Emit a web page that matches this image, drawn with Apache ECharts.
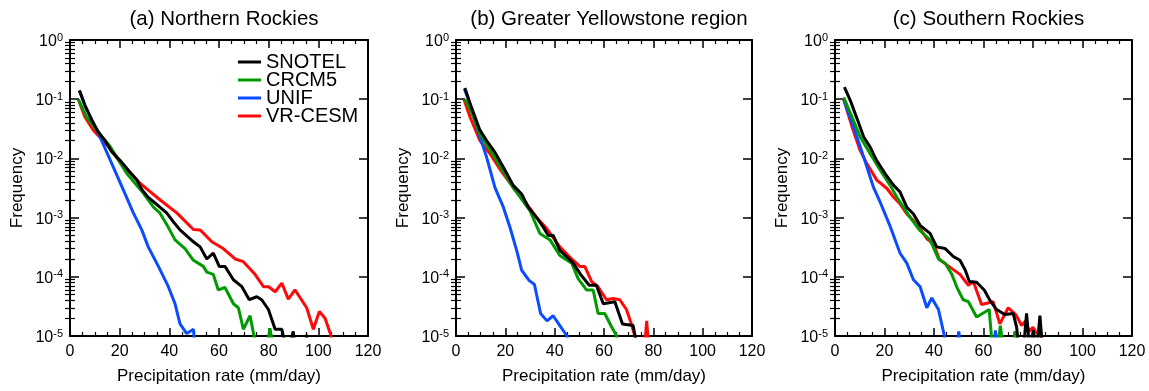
<!DOCTYPE html>
<html>
<head>
<meta charset="utf-8">
<title>Precipitation rate frequency</title>
<script src="https://cdn.jsdelivr.net/npm/echarts@6/dist/echarts.min.js"></script>
<style>
html,body{margin:0;padding:0;background:#fff;}
#main{width:1149px;height:391px;}
</style>
</head>
<body>
<div id="main"></div>
<script>
var panelTitles = ['(a) Northern Rockies', '(b) Greater Yellowstone region', '(c) Southern Rockies'];
var seriesNames = ['SNOTEL', 'CRCM5', 'UNIF', 'VR-CESM'];
var seriesColors = ['#000000', '#009a00', '#0a4cff', '#ff0a0a'];
var xTicks = [0, 20, 40, 60, 80, 100, 120];
var yTicks = [1e-5, 1e-4, 1e-3, 1e-2, 1e-1, 1];
var yMinorMultipliers = [2, 3, 4, 5, 6, 7, 8, 9];

// (a) Northern Rockies : [precipitation rate (mm/day), frequency]
var nrSnotel = [[3.8,1.4e-1],[6,7.9e-2],[8.7,4.5e-2],[11.4,2.8e-2],[14.1,2.0e-2],[16.8,1.3e-2],[20.1,9.3e-3],[23.5,6.3e-3],[26.8,4.4e-3],[28.9,3.0e-3],[31.5,2.2e-3],[34,1.8e-3],[36.2,1.5e-3],[38.9,1.2e-3],[41.6,8.5e-4],[44.3,6.2e-4],[49.7,3.9e-4],[52.4,3.2e-4],[55.1,2.0e-4],[57.7,2.5e-4],[60.1,1.5e-4],[62.4,1.5e-4],[65.8,8.9e-5],[69.1,6.9e-5],[72.2,4.1e-5],[75.2,4.6e-5],[77.2,4.1e-5],[79.9,2.8e-5],[82.6,1.3e-5],[85.3,1.3e-5],[87.5,5e-6],[89.9,1.2e-5],[91,5e-6],[94.5,5e-6],[95.3,1.05e-5],[96,5e-6]];
var nrCrcm5 = [[3.4,9.8e-2],[6.7,5.0e-2],[10.7,3.0e-2],[16.1,1.6e-2],[22.8,5.6e-3],[29.5,2.6e-3],[33.6,1.5e-3],[36.2,1.2e-3],[39,7.6e-4],[42.3,4.2e-4],[46.3,3.0e-4],[49.7,1.9e-4],[53.7,1.5e-4],[55.1,1.2e-4],[57.7,1.1e-4],[59.7,6.0e-5],[62.4,6.6e-5],[65.8,3.5e-5],[67.8,3.0e-5],[69.8,1.3e-5],[72.5,2.2e-5],[75.5,5e-6],[79.3,6e-6],[80.5,1.35e-5],[82,6e-6]];
var nrUnif = [[3.8,1.4e-1],[6,7.9e-2],[8.7,4.5e-2],[12.1,2.3e-2],[17.4,7.2e-3],[22.4,2.4e-3],[25.5,1.2e-3],[28.9,6.2e-4],[31.5,3.2e-4],[35.6,1.5e-4],[39.6,6.8e-5],[42.3,3.5e-5],[44.3,1.6e-5],[47,1.1e-5],[49.7,1.3e-5],[50.5,5e-6]];
var nrVrcesm = [[3.4,9.8e-2],[6,5.0e-2],[9.4,3.0e-2],[16,1.5e-2],[21,7.6e-3],[26.8,4.4e-3],[28.2,3.8e-3],[32,2.8e-3],[36.2,2.0e-3],[43,1.2e-3],[49.7,6.3e-4],[52.4,6.2e-4],[57.1,3.9e-4],[61.7,3.0e-4],[66.5,2.0e-4],[69.8,1.8e-4],[74.5,1.1e-4],[77.9,6.8e-5],[80,6.8e-5],[82.6,5.6e-5],[85.3,7.8e-5],[87.9,4.2e-5],[90.6,6.0e-5],[95.3,3.0e-5],[98,1.3e-5],[100.4,2.6e-5],[102.7,2.0e-5],[105,1.05e-5],[106,5e-6]];

// (b) Greater Yellowstone region
var gySnotel = [[3.6,1.55e-1],[6.3,7.2e-2],[9.7,3.0e-2],[12.4,2.0e-2],[15.8,1.26e-2],[19.2,7.1e-3],[23.2,3.5e-3],[26.6,2.5e-3],[29.3,1.5e-3],[32.7,1.0e-3],[35.4,6.9e-4],[37.4,5.0e-4],[39.4,5.0e-4],[42.1,2.8e-4],[44.8,2.2e-4],[47.5,1.7e-4],[50.5,1.1e-4],[54,7.2e-5],[56.9,7.2e-5],[59.7,3.5e-5],[64.4,3.8e-5],[67.5,1.6e-5],[71.8,1.5e-5],[74,5e-6]];
var gyCrcm5 = [[3.6,1.0e-1],[6.3,6.0e-2],[9.7,2.6e-2],[16.5,9.1e-3],[23.2,3.2e-3],[30,1.3e-3],[34,5.4e-4],[38.1,4.2e-4],[42.1,2.3e-4],[46.9,1.7e-4],[49.5,9.3e-5],[52.9,6.0e-5],[55.6,6.0e-5],[57.6,2.4e-5],[60.3,2.4e-5],[63,1.45e-5],[65.1,1.0e-5],[66,5e-6]];
var gyUnif = [[3.4,1.5e-1],[6,7.6e-2],[8.4,3.4e-2],[12.4,1.05e-2],[15.8,3.2e-3],[19.2,1.5e-3],[21.9,6.8e-4],[24.6,2.8e-4],[26.6,1.3e-4],[29.6,8.7e-5],[31.8,7.4e-5],[34.3,2.4e-5],[36.9,1.8e-5],[39.4,2.2e-5],[42.1,1.5e-5],[45,1.0e-5],[46,5e-6]];
var gyVrcesm = [[3.2,1.0e-1],[5.7,5.0e-2],[9.7,2.0e-2],[13.8,1.2e-2],[17.8,6.6e-3],[23.2,3.2e-3],[28.6,1.7e-3],[32.7,1.0e-3],[36.7,6.6e-4],[42.1,3.2e-4],[46.9,2.0e-4],[50.2,1.5e-4],[52.2,1.5e-4],[55,8.3e-5],[57.6,6.8e-5],[61,4.1e-5],[63.7,4.3e-5],[66.4,4.1e-5],[69.1,2.8e-5],[71.1,1.6e-5],[72.5,1.0e-5],[74,5e-6],[76.3,5e-6],[77.3,1.8e-5],[78.3,5e-6]];

// (c) Southern Rockies
var srSnotel = [[3.8,1.6e-1],[6.2,9.5e-2],[8.9,4.7e-2],[11.6,2.3e-2],[14.2,1.55e-2],[16.9,9.1e-3],[20.3,5.5e-3],[23.7,3.5e-3],[26.3,2.7e-3],[29,1.5e-3],[31.7,1.15e-3],[34.4,7.4e-4],[38.4,5.4e-4],[41.1,3.2e-4],[44.5,3.0e-4],[47.8,2.2e-4],[50.5,1.9e-4],[52.6,1.3e-4],[54.3,8.3e-5],[57.2,8.1e-5],[60.3,6.0e-5],[62.6,4.0e-5],[65.3,2.8e-5],[68.6,2.3e-5],[72,2.4e-5],[73.4,1.4e-5],[74.5,5e-6],[76,5e-6],[77.4,2.4e-5],[78.8,5e-6],[80.1,1.25e-5],[81.4,5e-6],[82.8,2.2e-5],[84,5e-6]];
var srCrcm5 = [[3.5,1.07e-1],[6.9,5.0e-2],[10.2,2.3e-2],[14.2,1.2e-2],[18.3,6.3e-3],[22.3,3.5e-3],[25,2.2e-3],[27.7,1.5e-3],[30.4,1.0e-3],[34.4,6.0e-4],[38.4,4.2e-4],[41.8,2.0e-4],[44.5,1.7e-4],[47.2,1.1e-4],[49.5,6.3e-5],[51.8,4.1e-5],[53.9,3.8e-5],[57.2,2.1e-5],[62.3,2.8e-5],[63.8,5e-6],[65.5,5e-6],[66.8,1.5e-5],[68.3,5e-6],[71.5,5e-6],[72.7,1.2e-5],[73.8,5e-6]];
var srUnif = [[3.5,1.0e-1],[7.5,3.4e-2],[11.6,1.05e-2],[15.6,3.2e-3],[18.3,1.8e-3],[22.3,7.1e-4],[26.3,2.5e-4],[29,1.7e-4],[31.7,8.9e-5],[34.4,6.8e-5],[37.1,3.0e-5],[39.1,4.4e-5],[41.8,2.8e-5],[44.2,1.0e-5],[45,5e-6],[49,5e-6],[50,1.2e-5],[51,5e-6],[64,5e-6],[64.8,1.25e-5],[65.6,5e-6]];
var srVrcesm = [[3.5,1.0e-1],[6.9,3.4e-2],[10.2,1.35e-2],[12.9,8.1e-3],[16.9,4.3e-3],[21,3.1e-3],[23.7,2.2e-3],[26.3,1.7e-3],[29,1.15e-3],[33.1,7.9e-4],[37.1,4.4e-4],[39.8,3.6e-4],[42.2,1.95e-4],[46,1.5e-4],[50.5,1.1e-4],[53.9,7.2e-5],[55.9,8.3e-5],[59.2,3.4e-5],[63.9,3.8e-5],[66.6,1.6e-5],[70,3.0e-5],[73,2.3e-5],[75.4,1.5e-5],[77,1.8e-5],[78.5,1.2e-5],[80,1.4e-5],[81.5,1.1e-5],[83,1.3e-5],[84,5e-6]];

// 按面板组合, 顺序同 seriesNames
var panelData = [
    [nrSnotel, nrCrcm5, nrUnif, nrVrcesm],
    [gySnotel, gyCrcm5, gyUnif, gyVrcesm],
    [srSnotel, srCrcm5, srUnif, srVrcesm]
];

var gridLeft = [70, 456, 835];
var gridWidth = [298, 296, 297];
var fontName = "'Liberation Sans', Arial, sans-serif";

// 对数轴的次刻度: 每个十进位的 2..9
var yMinorTicks = [];
for (var d = 0; d < yTicks.length - 1; d++){
    for (var m = 0; m < yMinorMultipliers.length; m++){
        yMinorTicks.push(+(yMinorMultipliers[m] * yTicks[d]).toPrecision(3));
    }
}

function xAxisFor(i, onTop){
    return {
        type:'value', gridIndex:i, position: onTop ? 'top' : 'bottom',
        min:xTicks[0], max:xTicks[xTicks.length-1], interval:xTicks[1]-xTicks[0],
        name: onTop ? '' : 'Precipitation rate (mm/day)',
        nameLocation:'middle', nameGap:32,
        nameTextStyle:{color:'#000', fontSize:17, fontFamily:fontName},
        axisLine:{show:true, onZero:false, lineStyle:{color:'#000', width:2}},
        axisTick:{show:true, inside:true, length:8, lineStyle:{color:'#000', width:1.5}},
        minorTick:{show:true, splitNumber:4, length:4, lineStyle:{color:'#000', width:1.2}},
        axisLabel:{show:!onTop, color:'#000', fontSize:16, margin:8, fontFamily:fontName},
        splitLine:{show:false}
    };
}

function yAxisFor(i, onRight){
    return {
        type:'log', logBase:10, gridIndex:i, position: onRight ? 'right' : 'left',
        min:yTicks[0], max:yTicks[yTicks.length-1],
        name: onRight ? '' : 'Frequency',
        nameLocation:'middle', nameGap:44,
        nameTextStyle:{color:'#000', fontSize:17, fontFamily:fontName},
        axisLine:{show:true, onZero:false, lineStyle:{color:'#000', width:2}},
        axisTick:{show:true, inside:true, length:9, lineStyle:{color:'#000', width:1.5}},
        minorTick:{show:false},
        axisLabel:{
            show:!onRight, margin:7,
            formatter:function(v){
                var e = Math.round(Math.log(v)/Math.LN10);
                return '{b|10}{s|' + e + '}';
            },
            rich:{
                b:{fontSize:16, lineHeight:16, color:'#000', fontFamily:fontName, padding:[3,0,0,0]},
                s:{fontSize:11, lineHeight:11, color:'#000', fontFamily:fontName, verticalAlign:'top'}
            }
        },
        splitLine:{show:false}
    };
}

// 只画次刻度的辅助对数轴
function yMinorAxisFor(i, onRight){
    return {
        type:'log', logBase:10, gridIndex:i, position: onRight ? 'right' : 'left',
        min:yTicks[0], max:yTicks[yTicks.length-1],
        axisLine:{show:false},
        axisTick:{show:true, inside:true, length:5, customValues:yMinorTicks, lineStyle:{color:'#000', width:1.2}},
        axisLabel:{show:false},
        splitLine:{show:false}
    };
}

function buildOption(){
    var option = {
        backgroundColor:'#fff',
        animation:false,
        title:[], grid:[], xAxis:[], yAxis:[], series:[],
        legend:{
            data:seriesNames,
            left:233, top:47, orient:'vertical',
            itemWidth:23, itemHeight:3, itemGap:-2,
            icon:'rect',
            textStyle:{color:'#000', fontSize:20, lineHeight:17.7, fontFamily:fontName},
            selectedMode:false
        }
    };
    // 绘制顺序: 红, 蓝, 绿, 黑 (黑线在最上层)
    var drawOrder = [3, 2, 1, 0];
    for (var i = 0; i < panelTitles.length; i++){
        option.title.push({
            text:panelTitles[i],
            left:gridLeft[i] + gridWidth[i]/2, top:4, textAlign:'center',
            textStyle:{color:'#000', fontSize:20.5, fontWeight:'normal', fontFamily:fontName}
        });
        option.grid.push({left:gridLeft[i], top:40, width:gridWidth[i], height:296});
        option.xAxis.push(xAxisFor(i, false));
        option.xAxis.push(xAxisFor(i, true));
        option.yAxis.push(yAxisFor(i, false));
        option.yAxis.push(yAxisFor(i, true));
        option.yAxis.push(yMinorAxisFor(i, false));
        option.yAxis.push(yMinorAxisFor(i, true));
        for (var k = 0; k < drawOrder.length; k++){
            var s = drawOrder[k];
            option.series.push({
                type:'line', name:seriesNames[s],
                xAxisIndex:2*i, yAxisIndex:4*i,
                data:panelData[i][s],
                symbol:'none', clip:true,
                color:seriesColors[s],
                lineStyle:{color:seriesColors[s], width:3},
                itemStyle:{color:seriesColors[s]}
            });
        }
    }
    return option;
}

var chart = echarts.init(document.getElementById('main'));
chart.setOption(buildOption());
</script>
</body>
</html>
